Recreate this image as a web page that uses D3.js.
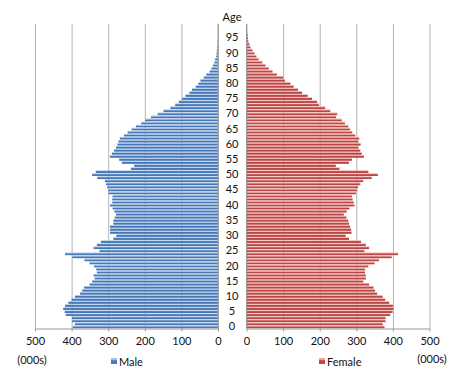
<!DOCTYPE html>
<html>
<head>
<meta charset="utf-8">
<script src="https://cdn.jsdelivr.net/npm/d3@7"></script>
<style>
  body { margin: 0; background: #fff; }
  text { font-family: Lato, "Open Sans", sans-serif; fill: #111; }
</style>
</head>
<body>
<div id="chart"></div>
<script>
  // ages 0..99
  const ages = d3.range(0, 100);

  // male population (000s), age 0 -> 99
  const male = [
    397, 391, 399, 399, 416, 419, 423, 418, 409, 400,
    391, 377, 371, 366, 351, 344, 337, 340, 331, 333,
    339, 351, 365, 398, 418, 324, 340, 331, 320, 286,
    278, 295, 295, 295, 286, 286, 282, 279, 283, 288,
    295, 289, 289, 288, 299, 300, 303, 306, 309, 330,
    344, 334, 238, 229, 263, 270, 295, 290, 284, 279,
    275, 272, 268, 257, 247, 236, 224, 210, 199, 183,
    165, 149, 130, 117, 107, 98, 89, 78, 71, 61,
    54, 48, 39, 32, 23, 18, 14, 10, 8, 5,
    4, 3, 2, 1, 1, 0, 0, 0, 0, 0
  ];

  // female population (000s), age 0 -> 99
  const female = [
    377, 372, 380, 380, 393, 399, 401, 400, 390, 379,
    372, 357, 351, 347, 335, 319, 326, 326, 324, 324,
    333, 350, 362, 397, 414, 322, 335, 326, 313, 280,
    271, 287, 286, 283, 280, 278, 273, 266, 274, 281,
    295, 293, 290, 288, 299, 302, 305, 311, 319, 342,
    359, 333, 254, 244, 280, 288, 321, 315, 311, 306,
    312, 306, 308, 297, 289, 283, 278, 269, 260, 245,
    248, 229, 215, 198, 193, 179, 167, 152, 141, 129,
    120, 105, 100, 83, 71, 61, 52, 43, 33, 27,
    22, 16, 11, 8, 5, 4, 3, 2, 1, 0
  ];

  const xTicks = [0, 100, 200, 300, 400, 500];
  const ageTicks = d3.range(0, 100, 5);

  const width = 463, height = 383;
  const plotTop = 24, plotBottom = 328.5;

  const svg = d3.select("#chart").append("svg")
    .attr("width", width)
    .attr("height", height);

  const y = d3.scaleBand()
    .domain(ages)
    .range([plotBottom, plotTop])
    .paddingInner(0.15)
    .paddingOuter(0.1);

  const xMale = d3.scaleLinear().domain([0, 500]).range([218, 35]);
  const xFemale = d3.scaleLinear().domain([0, 500]).range([246.5, 429.5]);

  // gradients, Excel-ish bar look
  const defs = svg.append("defs");
  function grad(id, light, dark) {
    const g = defs.append("linearGradient")
      .attr("id", id).attr("x1", 0).attr("y1", 0).attr("x2", 0).attr("y2", 1);
    g.append("stop").attr("offset", "0%").attr("stop-color", light);
    g.append("stop").attr("offset", "30%").attr("stop-color", light);
    g.append("stop").attr("offset", "45%").attr("stop-color", dark);
    g.append("stop").attr("offset", "100%").attr("stop-color", dark);
  }
  grad("gMale", "#a3bfe2", "#4677b6");
  grad("gFemale", "#e8a3a1", "#bb4643");

  // gridlines
  function grid(x) {
    svg.append("g")
      .attr("transform", `translate(0, ${plotBottom})`)
      .call(d3.axisBottom(x).tickValues(xTicks).tickSize(-(plotBottom - plotTop)).tickFormat(""))
      .call(g => g.select(".domain").remove())
      .call(g => g.selectAll("line").attr("stroke", "#b3b3b3"));
  }
  grid(xMale);
  grid(xFemale);

  // bars
  svg.append("g").selectAll("rect")
    .data(ages)
    .enter()
    .append("rect")
    .attr("x", d => xMale(male[d]))
    .attr("y", d => y(d))
    .attr("width", d => xMale(0) - xMale(male[d]))
    .attr("height", y.bandwidth())
    .attr("fill", "url(#gMale)");

  svg.append("g").selectAll("rect")
    .data(ages)
    .enter()
    .append("rect")
    .attr("x", xFemale(0))
    .attr("y", d => y(d))
    .attr("width", d => xFemale(female[d]) - xFemale(0))
    .attr("height", y.bandwidth())
    .attr("fill", "url(#gFemale)");

  // bottom axes
  function axis(x) {
    svg.append("g")
      .attr("transform", `translate(0, ${plotBottom})`)
      .call(d3.axisBottom(x).tickValues(xTicks).tickSize(3).tickSizeOuter(0).tickPadding(6))
      .call(g => g.select(".domain").attr("stroke", "#999"))
      .call(g => g.selectAll("line").attr("stroke", "#999"))
      .call(g => g.selectAll("text").style("font-size", "11px").attr("fill", "#111"));
  }
  axis(xMale);
  axis(xFemale);

  // vertical zero lines
  [xMale(0), xFemale(0)].forEach(x0 => {
    svg.append("line")
      .attr("x1", x0).attr("x2", x0)
      .attr("y1", plotTop).attr("y2", plotBottom)
      .attr("stroke", "#999");
  });

  // age labels in the middle
  svg.append("g")
    .attr("transform", "translate(232, 0)")
    .call(d3.axisLeft(y).tickValues(ageTicks).tickSize(0).tickPadding(0))
    .call(g => g.select(".domain").remove())
    .call(g => g.selectAll("text")
      .attr("text-anchor", "middle")
      .style("font-size", "11px")
      .attr("fill", "#111"));

  svg.append("text")
    .attr("x", 232).attr("y", 21)
    .attr("text-anchor", "middle")
    .style("font-size", "11px")
    .text("Age");

  // units
  svg.append("text")
    .attr("x", 32).attr("y", 364)
    .attr("text-anchor", "middle")
    .style("font-size", "11px")
    .text("(000s)");
  svg.append("text")
    .attr("x", 432).attr("y", 363)
    .attr("text-anchor", "middle")
    .style("font-size", "11px")
    .text("(000s)");

  // legend
  const legend = [
    { name: "Male", fill: "url(#gMale)", x: 111 },
    { name: "Female", fill: "url(#gFemale)", x: 319 }
  ];
  legend.forEach(l => {
    svg.append("rect")
      .attr("x", l.x).attr("y", 358)
      .attr("width", 6).attr("height", 6)
      .attr("fill", l.fill);
    svg.append("text")
      .attr("x", l.x + 8).attr("y", 366)
      .style("font-size", "11px")
      .text(l.name);
  });
</script>
</body>
</html>
